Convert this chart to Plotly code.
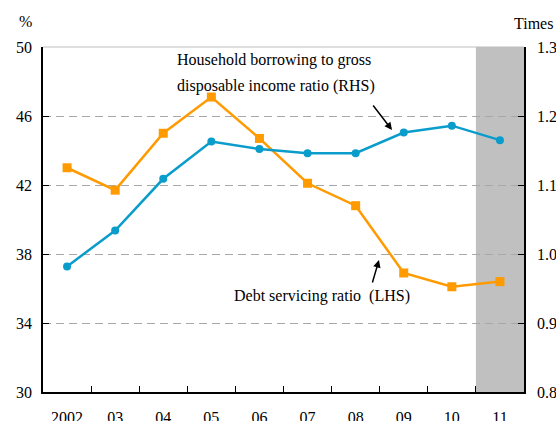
import plotly.graph_objects as go

# Calendar years on the horizontal axis
years = ["2002", "03", "04", "05", "06", "07", "08", "09", "10", "11"]

# Debt servicing ratio, % (left-hand scale)
debt_servicing = [43.0, 41.7, 45.0, 47.1, 44.7, 42.1, 40.8, 36.9, 36.1, 36.4]

# Household borrowing to gross disposable income, times (right-hand scale)
borrowing_ratio = [0.982, 1.034, 1.109, 1.163, 1.152, 1.146, 1.146, 1.176, 1.186, 1.165]

left_ticks = [30, 34, 38, 42, 46, 50]
right_ticks = [0.8, 0.9, 1.0, 1.1, 1.2, 1.3]

FONT = "Liberation Serif, Times New Roman, serif"
ORANGE = "#FF9A00"
BLUE = "#0A9CCB"

fig = go.Figure()

fig.add_trace(go.Scatter(
    x=years, y=borrowing_ratio, yaxis="y2", mode="lines+markers",
    line=dict(color=BLUE, width=2.5),
    marker=dict(symbol="circle", size=8, color=BLUE),
    showlegend=False,
))
fig.add_trace(go.Scatter(
    x=years, y=debt_servicing, mode="lines+markers",
    line=dict(color=ORANGE, width=2.5),
    marker=dict(symbol="square", size=9, color=ORANGE),
    showlegend=False,
))

# Shaded final year
fig.add_shape(type="rect", xref="x", yref="paper",
              x0=8.5, x1=9.5, y0=0, y1=1,
              fillcolor="#C0C0C0", line_width=0, layer="between")
# Light top border at the 50 level
fig.add_shape(type="line", xref="paper", yref="paper",
              x0=0, x1=1, y0=1, y1=1,
              line=dict(color="#BDBDBD", width=1.2), layer="between")

tick_font = dict(family=FONT, size=16, color="black")

fig.update_layout(
    width=556, height=421,
    margin=dict(l=43, r=32, t=47, b=29),
    paper_bgcolor="white", plot_bgcolor="white",
    font=dict(family=FONT, size=16, color="black"),
    xaxis=dict(
        type="category", range=[-0.5, 9.5], automargin=False,
        showline=True, linecolor="black", linewidth=1.5,
        ticks="inside", ticklen=6, tickcolor="black", tickwidth=1,
        tickson="boundaries", showgrid=False,
        tickfont=tick_font, ticklabelstandoff=10,
    ),
    yaxis=dict(
        range=[30, 50], tickvals=left_ticks, automargin=False,
        showline=True, linecolor="black", linewidth=1.5,
        ticks="inside", ticklen=6, tickcolor="black",
        showgrid=True, gridcolor="#A8A8A8", gridwidth=1, griddash="8px,5px",
        zeroline=False, tickfont=tick_font, ticklabelstandoff=6,
    ),
    yaxis2=dict(
        range=[0.8, 1.3], tickvals=right_ticks, tickformat=".1f",
        overlaying="y", side="right", automargin=False,
        showline=True, linecolor="black", linewidth=1.5,
        ticks="inside", ticklen=6, tickcolor="black",
        showgrid=False, zeroline=False,
        tickfont=tick_font, ticklabelstandoff=8,
    ),
    annotations=[
        dict(text="%", xref="paper", yref="paper", x=-0.037, y=1.073,
             xanchor="center", yanchor="middle", showarrow=False,
             font=dict(family=FONT, size=16)),
        dict(text="Times", xref="paper", yref="paper", x=1.064, y=1.067,
             xanchor="right", yanchor="middle", showarrow=False,
             font=dict(family=FONT, size=16)),
        dict(text="Household borrowing to gross", xref="paper", yref="paper",
             x=0.274, y=0.962, xanchor="left", yanchor="middle",
             showarrow=False, font=dict(family=FONT, size=16)),
        dict(text="disposable income ratio (RHS)", xref="paper", yref="paper",
             x=0.274, y=0.887, xanchor="left", yanchor="middle",
             showarrow=False, font=dict(family=FONT, size=16)),
        dict(text="Debt servicing ratio\u00a0 (LHS)", xref="paper", yref="paper",
             x=0.393, y=0.278, xanchor="left", yanchor="middle",
             showarrow=False, font=dict(family=FONT, size=16)),
        # Pointer arrows
        dict(text="", xref="paper", yref="paper", x=0.7256, y=0.7594,
             ax=-20, ay=-26, showarrow=True, arrowhead=2, arrowsize=1,
             arrowwidth=1.5, arrowcolor="black"),
        dict(text="", xref="paper", yref="paper", x=0.6985, y=0.3826,
             ax=-7, ay=24, showarrow=True, arrowhead=2, arrowsize=1,
             arrowwidth=1.5, arrowcolor="black"),
    ],
)

fig.write_html("out.html")
